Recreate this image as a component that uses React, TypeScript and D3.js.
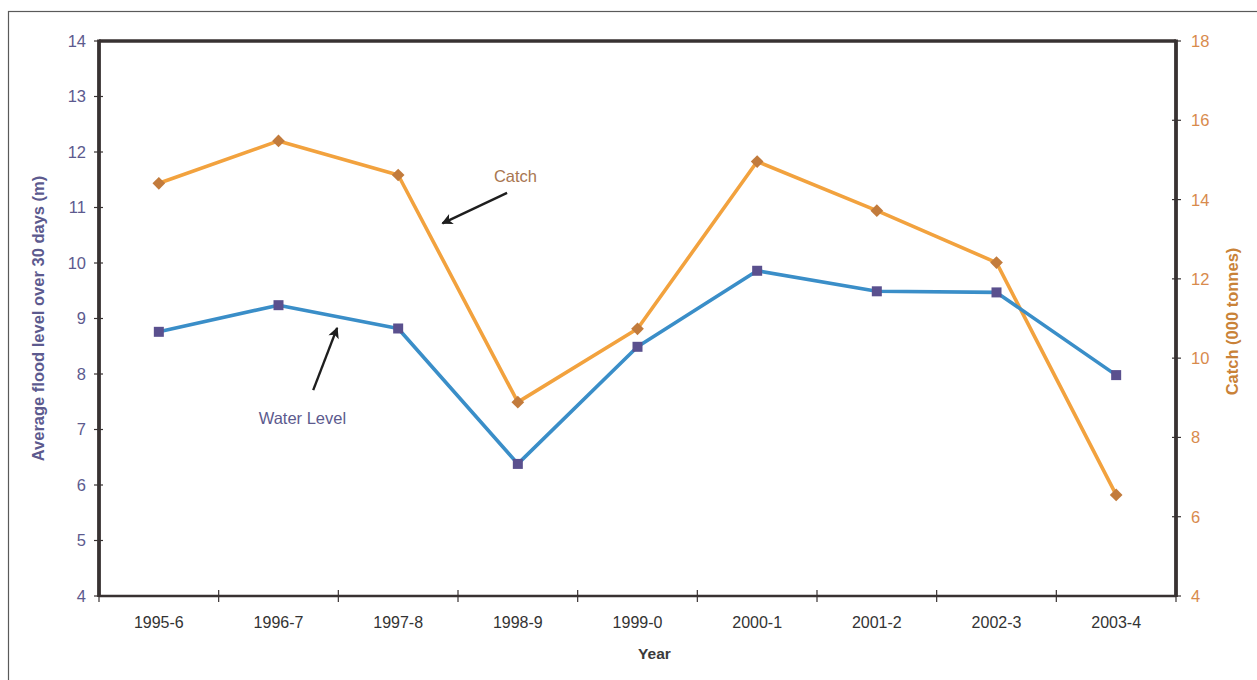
import React from "react";
import * as d3 from "d3";

const years = ["1995-6", "1996-7", "1997-8", "1998-9", "1999-0", "2000-1", "2001-2", "2002-3", "2003-4"];
const waterLevel = [8.76, 9.24, 8.82, 6.38, 8.49, 9.86, 9.49, 9.47, 7.98];
const catchTonnes = [14.41, 15.48, 14.62, 8.89, 10.74, 14.96, 13.72, 12.41, 6.55];
const leftTicks = [4, 5, 6, 7, 8, 9, 10, 11, 12, 13, 14];
const rightTicks = [4, 6, 8, 10, 12, 14, 16, 18];

// annotation positions in data units (x = year index, y = axis value)
const catchNote = { label: "Catch", text: [2.98, 14.6], from: [2.91, 14.17], to: [2.37, 13.4] };
const waterNote = { label: "Water Level", text: [1.2, 7.21], from: [1.29, 7.71], to: [1.49, 8.83] };

const W = 1257;
const H = 680;
const margin = { top: 41, right: 81, bottom: 84, left: 99 };
const FONT = "'Liberation Sans', Arial, sans-serif";

export default function App() {
  const width = W - margin.left - margin.right;
  const height = H - margin.top - margin.bottom;

  const x = d3.scaleBand().domain(years).range([0, width]);
  const xi = d3.scaleLinear().domain([-0.5, years.length - 0.5]).range([0, width]);
  const yL = d3.scaleLinear().domain([4, 14]).range([height, 0]);
  const yR = d3.scaleLinear().domain([4, 18]).range([height, 0]);

  const cx = (i: number) => (x(years[i]) ?? 0) + x.bandwidth() / 2;

  const waterLine = d3.line<number>().x((_, i) => cx(i)).y((d) => yL(d));
  const catchLine = d3.line<number>().x((_, i) => cx(i)).y((d) => yR(d));

  const boundaries = d3.range(years.length + 1).map((i) => i * x.step());

  return (
    <svg width={W} height={H} style={{ position: "absolute", left: 0, top: 0, background: "#fff" }}>
      <defs>
        <marker id="arrow" viewBox="0 0 10 10" refX="9" refY="5" markerWidth="6.5" markerHeight="4.6" orient="auto-start-reverse" markerUnits="strokeWidth">
          <path d="M0,0 L10,5 L0,10 L2.5,5 z" fill="#1e1e1e" />
        </marker>
      </defs>
      <rect x={8.5} y={11.5} width={W + 20} height={H + 20} fill="none" stroke="#5a5a5a" strokeWidth={1.2} />
      <g transform={`translate(${margin.left},${margin.top})`}>
        {/* frame */}
        <line x1={0} x2={width} y1={0} y2={0} stroke="#383232" strokeWidth={3.5} />
        <line x1={0} x2={width} y1={height} y2={height} stroke="#383232" strokeWidth={2.6} />
        <line x1={0} x2={0} y1={-1.5} y2={height + 1} stroke="#383232" strokeWidth={3.8} />
        <line x1={width} x2={width} y1={-1.5} y2={height + 1} stroke="#383232" strokeWidth={3.8} />

        {/* left axis */}
        {leftTicks.map((t) => (
          <g key={"l" + t} transform={`translate(0,${yL(t)})`}>
            <line x1={-5} x2={4} stroke="#383232" strokeWidth={1.2} />
            <text x={-13} dy="0.36em" textAnchor="end" fontFamily={FONT} fontSize={16.5} fill="#5c5a8e">
              {t}
            </text>
          </g>
        ))}

        {/* right axis */}
        {rightTicks.map((t) => (
          <g key={"r" + t} transform={`translate(${width},${yR(t)})`}>
            <line x1={-4} x2={5} stroke="#383232" strokeWidth={1.2} />
            <text x={15} dy="0.36em" textAnchor="start" fontFamily={FONT} fontSize={16.5} fill="#d88a4c">
              {t}
            </text>
          </g>
        ))}

        {/* bottom axis */}
        {boundaries.map((b, i) => (
          <line key={"b" + i} x1={b} x2={b} y1={height - 6} y2={height + 6} stroke="#383232" strokeWidth={1.2} />
        ))}
        {years.map((yr, i) => (
          <text key={yr} x={cx(i)} y={height + 32} textAnchor="middle" fontFamily={FONT} fontSize={16} fill="#333">
            {yr}
          </text>
        ))}

        {/* axis titles */}
        <text x={width / 2 + 17} y={height + 63} textAnchor="middle" fontFamily={FONT} fontSize={15.5} fontWeight="bold" fill="#3a3a3a">
          Year
        </text>
        <text
          transform={`translate(-55,${height / 2}) rotate(-90)`}
          textAnchor="middle"
          fontFamily={FONT}
          fontSize={16.5}
          fontWeight="bold"
          fill="#5c5a8e"
        >
          Average flood level over 30 days (m)
        </text>
        <text
          transform={`translate(${width + 62},${height / 2 + 3}) rotate(-90)`}
          textAnchor="middle"
          fontFamily={FONT}
          fontSize={16.5}
          fontWeight="bold"
          fill="#c98238"
        >
          Catch (000 tonnes)
        </text>

        {/* series */}
        <path d={catchLine(catchTonnes) ?? ""} fill="none" stroke="#f2a23e" strokeWidth={3.6} strokeLinejoin="round" />
        <path d={waterLine(waterLevel) ?? ""} fill="none" stroke="#3a8ec8" strokeWidth={3.6} strokeLinejoin="round" />
        {catchTonnes.map((v, i) => (
          <rect
            key={"c" + i}
            x={-4.5}
            y={-4.5}
            width={9}
            height={9}
            fill="#c27b3c"
            transform={`translate(${cx(i)},${yR(v)}) rotate(45)`}
          />
        ))}
        {waterLevel.map((v, i) => (
          <rect key={"w" + i} x={cx(i) - 5} y={yL(v) - 5} width={10} height={10} fill="#5a508e" />
        ))}

        {/* annotations */}
        <line
          x1={xi(catchNote.from[0])}
          y1={yR(catchNote.from[1])}
          x2={xi(catchNote.to[0])}
          y2={yR(catchNote.to[1])}
          stroke="#1e1e1e"
          strokeWidth={2.4}
          markerEnd="url(#arrow)"
        />
        <text x={xi(catchNote.text[0])} y={yR(catchNote.text[1])} dy="0.36em" textAnchor="middle" fontFamily={FONT} fontSize={16.5} fill="#a87650">
          {catchNote.label}
        </text>
        <line
          x1={xi(waterNote.from[0])}
          y1={yL(waterNote.from[1])}
          x2={xi(waterNote.to[0])}
          y2={yL(waterNote.to[1])}
          stroke="#1e1e1e"
          strokeWidth={2.4}
          markerEnd="url(#arrow)"
        />
        <text x={xi(waterNote.text[0])} y={yL(waterNote.text[1])} dy="0.36em" textAnchor="middle" fontFamily={FONT} fontSize={16.5} fill="#5c5a8e">
          {waterNote.label}
        </text>
      </g>
    </svg>
  );
}
